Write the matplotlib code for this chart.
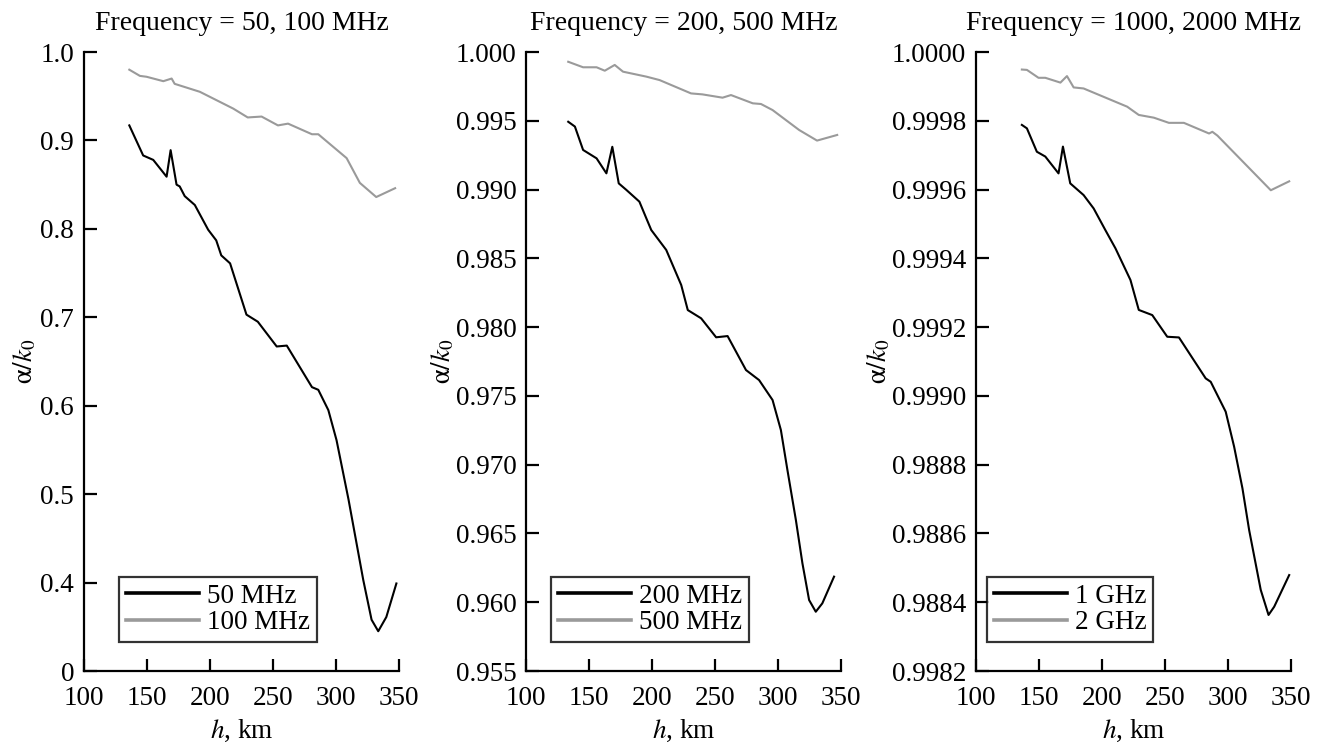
import matplotlib
matplotlib.use('Agg')
import matplotlib.pyplot as plt
from matplotlib.lines import Line2D

plt.rcParams['font.family'] = ['Liberation Serif', 'DejaVu Serif']
plt.rcParams['mathtext.fontset'] = 'stix'

# --- panel 1: 50 / 100 MHz ---
h50 = [136, 147, 155, 165.6, 168.8, 173.5, 176, 180, 188, 198.6, 205, 209, 216,
       229, 238, 253, 261, 281, 286, 294, 300.5, 310, 321.7, 328.3, 333.6, 340, 348]
a50 = [0.917, 0.883, 0.878, 0.859, 0.889, 0.850, 0.848, 0.837, 0.827, 0.799, 0.787,
       0.770, 0.761, 0.703, 0.695, 0.667, 0.668, 0.621, 0.618, 0.595, 0.561, 0.494,
       0.403, 0.358, 0.345, 0.361, 0.399]
h100 = [136, 144.4, 149.7, 163, 169.6, 172, 192, 218.5, 230, 241, 254, 262, 281,
        286, 308.5, 319, 332, 347]
a100 = [0.980, 0.973, 0.972, 0.967, 0.970, 0.964, 0.955, 0.936, 0.926, 0.927, 0.917,
        0.919, 0.907, 0.907, 0.880, 0.852, 0.836, 0.846]

# --- panel 2: 200 / 500 MHz ---
h200 = [133.5, 138.8, 145.3, 156, 163.8, 168.5, 173.6, 179.7, 190, 195.5, 199.4,
        211.3, 223.2, 228.4, 239, 250.9, 260, 274.6, 285, 295.7, 302.3, 307.5,
        314.2, 319.4, 324.7, 330, 335.2, 344.5]
a200 = [0.99493, 0.99458, 0.99288, 0.99227, 0.99118, 0.99311, 0.99045, 0.98997,
        0.98912, 0.98791, 0.98706, 0.98561, 0.98306, 0.98124, 0.98064, 0.97926,
        0.97935, 0.97688, 0.97615, 0.97470, 0.97252, 0.96961, 0.96598, 0.96283,
        0.96016, 0.95931, 0.95992, 0.96186]
h500 = [133.5, 145.3, 156, 162.5, 170.4, 177, 195.5, 206, 231, 240, 256, 262.7,
        280, 286.5, 295.7, 316.8, 331, 347]
a500 = [0.99929, 0.99889, 0.99889, 0.99864, 0.99906, 0.99857, 0.99821, 0.99796,
        0.99699, 0.99692, 0.99668, 0.99687, 0.99627, 0.99622, 0.99578, 0.99433,
        0.99356, 0.99397]

# --- panel 3: 1 / 2 GHz ---
h1g = [136.4, 140.4, 148.3, 155, 165.5, 169, 174.8, 185.4, 193.4, 202.7, 210.7,
       222.6, 229.2, 239.9, 251.8, 261.1, 282.3, 286.3, 298.2, 304.9, 311.5,
       316.8, 326, 332.2, 336.7, 348.6]
a1g = [0.999788, 0.999778, 0.999710, 0.999696, 0.999647, 0.999725, 0.999618,
       0.999584, 0.999545, 0.999482, 0.999429, 0.999337, 0.999250, 0.999235,
       0.999172, 0.999170, 0.999051, 0.999041, 0.998954, 0.998852, 0.998731,
       0.998610, 0.998436, 0.998363, 0.998387, 0.998479]
h2g = [136.4, 140.4, 149.6, 155, 167, 172.2, 177.5, 185.4, 220, 229.2, 241.2,
       253.1, 265, 285, 287.6, 291.6, 334, 348.6]
a2g = [0.999949, 0.999948, 0.999925, 0.999925, 0.999911, 0.999930, 0.999897,
       0.999894, 0.999841, 0.999817, 0.999809, 0.999794, 0.999794, 0.999763,
       0.999768, 0.999757, 0.999598, 0.999624]

titles = ['Frequency = 50, 100 MHz', 'Frequency = 200, 500 MHz',
          'Frequency = 1000, 2000 MHz']
labels = [('50 MHz', '100 MHz'), ('200 MHz', '500 MHz'), ('1 GHz', '2 GHz')]

# tick positions and the labels as printed (the originals keep their quirks)
yticks1 = [0.3, 0.4, 0.5, 0.6, 0.7, 0.8, 0.9, 1.0]
ylab1 = ['0', '0.4', '0.5', '0.6', '0.7', '0.8', '0.9', '1.0']
yticks2 = [0.955, 0.960, 0.965, 0.970, 0.975, 0.980, 0.985, 0.990, 0.995, 1.000]
ylab2 = ['0.955', '0.960', '0.965', '0.970', '0.975', '0.980', '0.985', '0.990',
         '0.995', '1.000']
yticks3 = [0.9982, 0.9984, 0.9986, 0.9988, 0.9990, 0.9992, 0.9994, 0.9996,
           0.9998, 1.0000]
ylab3 = ['0.9982', '0.9884', '0.9886', '0.9888', '0.9990', '0.9992', '0.9994',
         '0.9996', '0.9998', '1.0000']
xticks = [100, 150, 200, 250, 300, 350]

GREY = '#9a9a9a'
FS = 19.5

fig = plt.figure(figsize=(13.2, 7.44), dpi=100)
lefts = [0.0636, 0.3985, 0.7394]
panels = [(h50, a50, h100, a100, yticks1, ylab1, -0.145, 0.111),
          (h200, a200, h500, a500, yticks2, ylab2, -0.22, 0.079),
          (h1g, a1g, h2g, a2g, yticks3, ylab3, -0.265, 0.035)]

for i, (hb, ab, hg, ag, yt, yl, ylx, legx) in enumerate(panels):
    ax = fig.add_axes([lefts[i], 0.0981, 0.2386, 0.832])
    ax.plot(hb, ab, color='black', lw=1.5)
    ax.plot(hg, ag, color=GREY, lw=1.5)
    ax.set_xlim(100, 350)
    ax.set_ylim(yt[0], yt[-1])
    ax.set_xticks(xticks)
    ax.set_xticklabels([str(t) for t in xticks])
    ax.set_yticks(yt)
    ax.set_yticklabels(yl)
    for s in ['top', 'right']:
        ax.spines[s].set_visible(False)
    for s in ['left', 'bottom']:
        ax.spines[s].set_linewidth(1.6)
    ax.tick_params(direction='in', length=9, width=1.6, labelsize=FS)
    ax.tick_params(axis='x', pad=11)
    ax.tick_params(axis='y', pad=7)
    ax.set_title(titles[i], fontsize=FS + 0.5, pad=16)
    ax.set_xlabel('$h$, km', fontsize=FS)
    ax.xaxis.set_label_coords(0.5, -0.076)
    ax.set_ylabel(r'$\mathrm{\alpha}/k_0$', fontsize=FS)
    ax.yaxis.set_label_coords(ylx, 0.5)
    handles = [Line2D([], [], color='black', lw=2.6),
               Line2D([], [], color=GREY, lw=2.6)]
    leg = ax.legend(handles, labels[i], loc='lower left',
                    bbox_to_anchor=(legx, 0.047), fontsize=FS, frameon=True,
                    fancybox=False, handlelength=2.7, handletextpad=0.3,
                    borderpad=0.25, labelspacing=0.05, borderaxespad=0)
    leg.get_frame().set_edgecolor('black')
    leg.get_frame().set_linewidth(1.6)

fig.savefig('out.png', dpi=100)
